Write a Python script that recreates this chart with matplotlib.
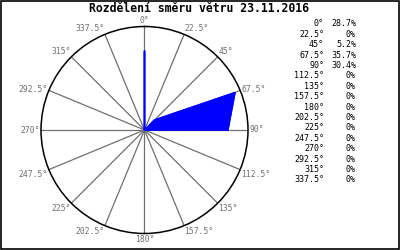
import numpy as np
import matplotlib
matplotlib.use('Agg')
from matplotlib import pyplot as plt
from matplotlib.patches import Rectangle

# wind direction distribution (percent per direction)
directions = [0, 22.5, 45, 67.5, 90, 112.5, 135, 157.5,
              180, 202.5, 225, 247.5, 270, 292.5, 315, 337.5]
percents = [28.7, 0, 5.2, 35.7, 30.4, 0, 0, 0,
            0, 0, 0, 0, 0, 0, 0, 0]
title = 'Rozdělení směru větru 23.11.2016'

plt.rcParams['font.family'] = ['DejaVu Sans Mono', 'DejaVu Sans']

fig = plt.figure(figsize=(4, 2.5), dpi=100)
fig.patch.set_facecolor('white')

rmax = 37.7
ax = fig.add_axes([0.1025, 0.066, 0.5175, 0.828], projection='polar')
ax.set_theta_zero_location('N')
ax.set_theta_direction(-1)
ax.set_ylim(0, rmax)
ax.grid(False)
ax.set_xticks([])
ax.set_yticks([])
ax.spines['polar'].set_color('black')
ax.spines['polar'].set_linewidth(1.1)

th = np.radians(directions)

# spokes
for t in th:
    ax.plot([t, t], [0, rmax], color='#707070', lw=0.9, zorder=1)

# data polygon
tc = np.append(th, th[0])
rc = np.append(percents, percents[0])
ax.fill(tc, rc, color='#0000ff', lw=1.0, zorder=3)
ax.plot(tc, rc, color='#0000ff', lw=1.0, zorder=3)

# direction labels round the circle
for d, t in zip(directions, th):
    s, c = np.sin(t), np.cos(t)
    if abs(s) < 0.01:
        ha = 'center'
    elif s > 0:
        ha = 'left'
    else:
        ha = 'right'
    if c > 0.5:
        va = 'bottom'
    elif c < -0.3:
        va = 'top'
    else:
        va = 'center'
    ax.text(t, rmax * 1.01, f'{d:g}°', ha=ha, va=va, fontsize=5.8,
            color='#707070', clip_on=False)

fig.text(0.4975, 0.966, title, ha='center', va='center', fontsize=8.3,
         fontweight='bold', color='black')

# legend table on the right
for i, (d, p) in enumerate(zip(directions, percents)):
    y = 1 - (24 + i * 10.4) / 250
    fig.text(324 / 400, y, f'{d:g}°', ha='right', va='center',
             fontsize=6, color='black')
    fig.text(356 / 400, y, f'{p:g}%', ha='right', va='center',
             fontsize=6, color='black')

fig.patches.append(Rectangle((0.002, 0.003), 0.995, 0.994, transform=fig.transFigure,
                             fill=False, edgecolor='black', lw=1.2))

fig.savefig('out.png', dpi=100)
